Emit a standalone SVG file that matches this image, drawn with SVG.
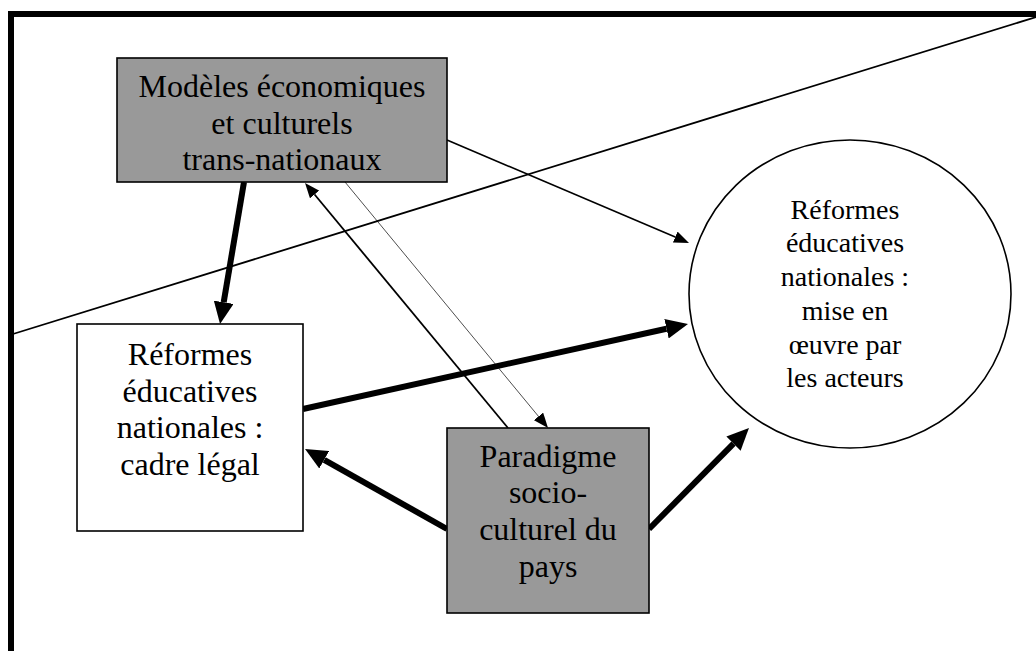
<svg xmlns="http://www.w3.org/2000/svg" width="1036" height="651" viewBox="0 0 1036 651">
  <defs>
    <style>
      .box { stroke: #000; stroke-width: 1.6; }
      .grey { fill: #999999; }
      .white { fill: #ffffff; }
      .lbl { font-family: "Liberation Serif", "Times New Roman", serif; font-size: 32px; fill: #000; text-anchor: middle; }
      .lblc { font-family: "Liberation Serif", "Times New Roman", serif; font-size: 28px; fill: #000; text-anchor: middle; }
      .thick { stroke: #000; stroke-width: 6; fill: none; }
      .thin { stroke: #000; stroke-width: 1.6; fill: none; }
      .med { stroke: #000; stroke-width: 1.8; fill: none; }
      .hair { stroke: #000; stroke-width: 0.7; fill: none; }
    </style>
    <marker id="headBig" viewBox="0 0 22 20" markerWidth="22" markerHeight="20" refX="0" refY="10" orient="auto" markerUnits="userSpaceOnUse">
      <path d="M0,0 L22,10 L0,20 z" fill="#000"/>
    </marker>
    <marker id="headSmall" viewBox="0 0 15 12" markerWidth="15" markerHeight="12" refX="0" refY="6" orient="auto" markerUnits="userSpaceOnUse">
      <path d="M0,0 L15,6 L0,12 z" fill="#000"/>
    </marker>
  </defs>

  <rect width="1036" height="651" fill="#ffffff"/>

  <!-- outer frame (cropped) -->
  <g id="frame">
    <rect x="11" y="14" width="1060" height="680" fill="none" stroke="#000" stroke-width="6"/>
  </g>

  <!-- separating diagonal line -->
  <g id="divider">
    <line x1="13" y1="334" x2="1036" y2="17" stroke="#000" stroke-width="1.8"/>
  </g>

  <g id="connectors">
    <line class="thick" x1="244" y1="182" x2="223.7" y2="302.3" marker-end="url(#headBig)"/>
    <line class="thin" x1="447" y1="140" x2="675.2" y2="237.1" marker-end="url(#headSmall)"/>
    <line class="med" x1="508" y1="428" x2="314.6" y2="194.5" marker-end="url(#headSmall)"/>
    <line class="hair" x1="345" y1="182" x2="538.5" y2="416.4" marker-end="url(#headSmall)"/>
    <line class="thick" x1="303" y1="409" x2="666.5" y2="328.7" marker-end="url(#headBig)"/>
    <line class="thick" x1="447" y1="529" x2="324.2" y2="459.8" marker-end="url(#headBig)"/>
    <line class="thick" x1="649" y1="529" x2="733.5" y2="443.6" marker-end="url(#headBig)"/>
  </g>

  <g id="node-modeles">
    <rect class="box grey" x="117" y="58" width="330" height="124"/>
    <text class="lbl" x="282" y="97">Modèles économiques</text>
    <text class="lbl" x="282" y="133.5">et culturels</text>
    <text class="lbl" x="282" y="170">trans-nationaux</text>
  </g>

  <g id="node-cadre">
    <rect class="box white" x="77" y="324" width="226" height="207"/>
    <text class="lbl" x="190" y="365">Réformes</text>
    <text class="lbl" x="190" y="401.7">éducatives</text>
    <text class="lbl" x="190" y="438.3">nationales :</text>
    <text class="lbl" x="190" y="475">cadre légal</text>
  </g>

  <g id="node-paradigme">
    <rect class="box grey" x="447" y="428" width="202" height="185"/>
    <text class="lbl" x="548" y="466.7">Paradigme</text>
    <text class="lbl" x="548" y="503.3">socio-</text>
    <text class="lbl" x="548" y="540">culturel du</text>
    <text class="lbl" x="548" y="576.7">pays</text>
  </g>

  <g id="node-miseenoeuvre">
    <ellipse class="box white" cx="850" cy="294" rx="161" ry="154"/>
    <text class="lblc" x="845" y="219">Réformes</text>
    <text class="lblc" x="845" y="252.3">éducatives</text>
    <text class="lblc" x="845" y="286">nationales :</text>
    <text class="lblc" x="845" y="320">mise en</text>
    <text class="lblc" x="845" y="354">œuvre par</text>
    <text class="lblc" x="845" y="387.3">les acteurs</text>
  </g>
</svg>
